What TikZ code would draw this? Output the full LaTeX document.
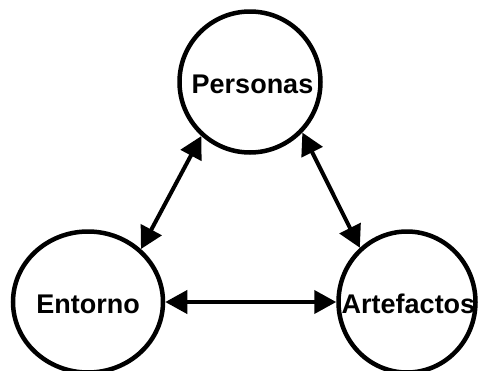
\documentclass[tikz,border=0pt]{standalone}
\usepackage{fontspec}
\setmainfont{Liberation Sans}
\usetikzlibrary{shapes.geometric,arrows.meta}
\begin{document}
\begin{tikzpicture}[x=1pt,y=-1pt,
  agent/.style={draw=black,line width=4.5pt,ellipse,inner sep=0pt,fill=white,
    text height=23.4pt,text depth=0pt,
    font=\fontsize{27}{32}\selectfont\bfseries},
  link/.style={line width=4pt,{Triangle[length=22pt,width=23pt]}-{Triangle[length=22pt,width=23pt]}}]
  \useasboundingbox (0,0) rectangle (482,370);
  % the three corners of the triad; the labels are allowed to run up to the rim
  \node[agent,minimum width=141pt,minimum height=141pt] (P) at (250,82) {\makebox[0pt]{\hspace{5pt}Personas}};
  \node[agent,minimum width=150pt,minimum height=141pt] (E) at (88,302) {\makebox[0pt]{Entorno}};
  \node[agent,minimum width=137pt,minimum height=141pt] (A) at (407,302) {\makebox[0pt]{\hspace{3pt}Artefactos}};
  % two-way relations
  \draw[link] (P.228) -- (E.45);
  \draw[link] (P.316) -- (A.131);
  \draw[link] (E.east) -- (A.west);
\end{tikzpicture}
\end{document}
